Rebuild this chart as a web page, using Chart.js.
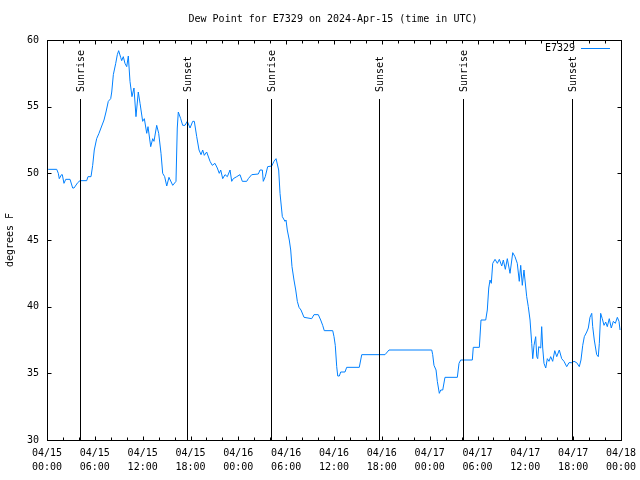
<!DOCTYPE html>
<html>
<head>
<meta charset="utf-8">
<script src="https://cdn.jsdelivr.net/npm/chart.js@4.4.1/dist/chart.umd.min.js"></script>
<style>
  html, body { margin: 0; padding: 0; background: #fff; }
  #wrap { width: 640px; height: 480px; }
</style>
</head>
<body>
<div id="wrap"><canvas id="dewChart" width="640" height="480"></canvas></div>
<script>
// hours since 04/15 00:00 UTC
const hours = [
  0.15, 1.22, 1.42, 1.54, 1.82, 1.92, 2.13, 2.35, 2.89, 3.22, 3.39, 3.85, 4.14, 4.98, 5.14, 5.52,
  5.73, 5.93, 6.23, 6.52, 6.77, 7.15, 7.40, 7.69, 7.99, 8.12, 8.32, 8.62, 8.82, 8.99, 9.24, 9.37,
  9.57, 9.78, 10.0, 10.2, 10.41, 10.66, 10.91, 11.16, 11.45, 11.67, 12.0, 12.21, 12.51, 12.67, 13.01, 13.26,
  13.42, 13.76, 14.01, 14.3, 14.51, 14.76, 15.02, 15.3, 15.77, 16.18, 16.34, 16.47, 16.77, 17.02, 17.31, 17.6,
  17.94, 18.28, 18.48, 18.78, 19.07, 19.32, 19.53, 19.73, 20.03, 20.45, 20.73, 21.07, 21.36, 21.61, 21.79, 22.04,
  22.33, 22.62, 22.96, 23.17, 23.37, 23.8, 24.21, 24.5, 25.05, 25.25, 25.68, 26.51, 26.72, 27.01, 27.13, 27.38,
  27.68, 28.19, 28.47, 28.73, 29.06, 29.23, 29.52, 29.85, 29.98, 30.14, 30.39, 30.57, 30.73, 30.98, 31.2, 31.4,
  31.61, 31.86, 32.24, 33.2, 33.49, 34.03, 34.33, 34.58, 34.78, 35.84, 36.0, 36.16, 36.34, 36.47, 36.67, 36.84,
  37.38, 37.59, 39.17, 39.48, 42.4, 42.9, 48.26, 48.38, 48.54, 48.8, 48.96, 49.21, 49.39, 49.64, 49.92, 51.47,
  51.68, 51.89, 53.35, 53.47, 54.23, 54.44, 55.03, 55.23, 55.41, 55.57, 55.73, 55.91, 56.2, 56.49, 56.74, 57.04,
  57.24, 57.49, 57.74, 58.08, 58.42, 58.7, 58.99, 59.24, 59.42, 59.62, 59.83, 60.17, 60.37, 60.59, 60.8, 60.93,
  61.09, 61.3, 61.43, 61.55, 61.68, 61.93, 62.05, 62.18, 62.34, 62.56, 62.76, 62.97, 63.18, 63.43, 63.69, 63.94,
  64.26, 64.56, 64.85, 65.19, 65.48, 65.82, 66.11, 66.44, 66.77, 66.98, 67.2, 67.4, 67.7, 67.9, 68.11, 68.33,
  68.45, 68.65, 68.95, 69.15, 69.28, 69.45, 69.65, 69.87, 70.08, 70.28, 70.53, 70.78, 71.04, 71.29, 71.54, 71.75,
  71.88
];
const dewPoint = [
  50.3, 50.3, 50.0, 49.6, 49.9, 49.9, 49.25, 49.55, 49.55, 48.9, 48.9, 49.3, 49.45, 49.45, 49.75, 49.75,
  50.6, 51.75, 52.6, 53.0, 53.4, 54.0, 54.6, 55.4, 55.6, 56.1, 57.4, 58.25, 58.9, 59.2, 58.7, 58.45,
  58.75, 58.25, 58.0, 58.8, 56.9, 55.75, 56.4, 54.25, 56.1, 55.25, 53.9, 54.1, 53.0, 53.5, 52.0, 52.6,
  52.4, 53.6, 53.0, 51.5, 50.0, 49.75, 49.05, 49.7, 49.1, 49.4, 53.4, 54.6, 54.1, 53.6, 53.6, 53.9,
  53.4, 53.9, 53.9, 52.75, 51.75, 51.4, 51.75, 51.35, 51.6, 50.9, 50.6, 50.75, 50.4, 50.0, 50.25, 49.6,
  49.9, 49.75, 50.25, 49.4, 49.6, 49.75, 49.9, 49.4, 49.4, 49.6, 49.9, 49.95, 50.25, 50.25, 49.4, 49.75,
  50.5, 50.55, 50.9, 51.1, 50.25, 48.5, 46.75, 46.4, 46.5, 45.75, 45.0, 44.25, 43.0, 42.0, 41.25, 40.4,
  39.95, 39.75, 39.2, 39.1, 39.4, 39.4, 39.0, 38.6, 38.2, 38.2, 37.75, 37.1, 35.5, 34.8, 34.8, 35.1,
  35.1, 35.45, 35.45, 36.4, 36.4, 36.75, 36.75, 36.4, 35.6, 35.25, 34.4, 33.5, 33.75, 33.75, 34.7, 34.7,
  35.75, 36.0, 36.0, 36.95, 36.95, 39.0, 39.0, 39.75, 41.4, 42.0, 41.75, 43.25, 43.55, 43.25, 43.55, 43.05,
  43.5, 42.8, 43.6, 42.5, 44.05, 43.75, 43.25, 41.9, 43.1, 41.6, 42.75, 40.75, 40.0, 39.0, 37.25, 36.1,
  37.1, 37.75, 36.25, 36.1, 37.0, 36.9, 38.5, 36.9, 35.75, 35.4, 36.1, 35.9, 36.25, 35.9, 36.7, 36.25,
  36.75, 36.1, 35.9, 35.5, 35.8, 35.8, 35.9, 35.8, 35.5, 36.0, 37.1, 37.75, 38.1, 38.4, 39.2, 39.5,
  38.5, 37.5, 36.4, 36.25, 37.25, 39.5, 39.1, 38.6, 38.85, 38.5, 39.1, 38.4, 38.9, 38.75, 39.2, 38.9,
  38.25
];

const eventHours = [4.17, 17.6, 28.15, 41.7, 52.2, 65.8];
const eventLabels = ['Sunrise', 'Sunset', 'Sunrise', 'Sunset', 'Sunrise', 'Sunset'];
const eventTop = 55.6;

const tickDates = ['04/15', '04/15', '04/15', '04/15', '04/16', '04/16', '04/16', '04/16', '04/17', '04/17', '04/17', '04/17', '04/18'];
const tickTimes = ['00:00', '06:00', '12:00', '18:00', '00:00', '06:00', '12:00', '18:00', '00:00', '06:00', '12:00', '18:00', '00:00'];

const titleText = 'Dew Point for E7329 on 2024-Apr-15 (time in UTC)';
const seriesName = 'E7329';
const yLabel = 'degrees F';

const FONT = '10px "DejaVu Sans Mono"';
const LINE_COLOR = 'rgb(0, 128, 255)';

// Gnuplot-ish frame: border, inward ticks, event markers, title, legend
const framePlugin = {
    id: 'gnuplotFrame',
    afterDraw(chart) {
        const ctx = chart.ctx;
        const a = chart.chartArea;
        const xs = chart.scales.x;
        const ys = chart.scales.y;
        const L = Math.round(a.left) + 0.5, R = Math.round(a.right) + 0.5;
        const T = Math.round(a.top) + 0.5, B = Math.round(a.bottom) + 0.5;

        ctx.save();
        ctx.strokeStyle = '#000';
        ctx.lineWidth = 1;

        // event lines
        eventHours.forEach((h) => {
            const px = Math.round(xs.getPixelForValue(h)) + 0.5;
            ctx.beginPath();
            ctx.moveTo(px, B);
            ctx.lineTo(px, Math.round(ys.getPixelForValue(eventTop)));
            ctx.stroke();
        });

        // border
        ctx.strokeRect(L, T, R - L, B - T);

        // x ticks (major every 6h, minor every 2h), mirrored on top
        ctx.beginPath();
        for (let h = 0; h <= 72; h += 2) {
            const px = Math.round(xs.getPixelForValue(h)) + 0.5;
            const len = h % 6 === 0 ? 4 : 3;
            ctx.moveTo(px, B); ctx.lineTo(px, B - len);
            ctx.moveTo(px, T); ctx.lineTo(px, T + len);
        }
        // y ticks every 5, mirrored on right
        for (let v = 30; v <= 60; v += 5) {
            const py = Math.round(ys.getPixelForValue(v)) + 0.5;
            ctx.moveTo(L, py); ctx.lineTo(L + 4, py);
            ctx.moveTo(R, py); ctx.lineTo(R - 4, py);
        }
        ctx.stroke();

        ctx.fillStyle = '#000';
        ctx.font = FONT;

        // event labels, rotated
        eventHours.forEach((h, i) => {
            const px = Math.round(xs.getPixelForValue(h)) + 1;
            ctx.save();
            ctx.translate(px, Math.round(ys.getPixelForValue(eventTop)) - 7);
            ctx.rotate(-Math.PI / 2);
            ctx.textAlign = 'left';
            ctx.textBaseline = 'middle';
            ctx.fillText(eventLabels[i], 0, 0);
            ctx.restore();
        });

        // title
        ctx.textAlign = 'center';
        ctx.textBaseline = 'middle';
        ctx.fillText(titleText, (a.left + a.right) / 2 - 1, 19);

        // y axis label
        ctx.save();
        ctx.translate(10, (a.top + a.bottom) / 2);
        ctx.rotate(-Math.PI / 2);
        ctx.fillText(yLabel, 0, 0);
        ctx.restore();

        // legend
        ctx.textAlign = 'right';
        ctx.fillText(seriesName, 575, 48);
        ctx.strokeStyle = LINE_COLOR;
        ctx.beginPath();
        ctx.moveTo(581, 48.5);
        ctx.lineTo(610, 48.5);
        ctx.stroke();

        ctx.restore();
    }
};

const ctx = document.getElementById('dewChart').getContext('2d');
new Chart(ctx, {
    type: 'line',
    data: {
        datasets: [{
            label: seriesName,
            data: hours.map((h, i) => ({ x: h, y: dewPoint[i] })),
            borderColor: LINE_COLOR,
            borderWidth: 1,
            pointRadius: 0,
            tension: 0,
            fill: false
        }]
    },
    options: {
        responsive: false,
        animation: false,
        layout: { padding: { top: 40, right: 19, left: 0, bottom: 0 } },
        plugins: {
            legend: { display: false },
            title: { display: false },
            tooltip: { enabled: false }
        },
        scales: {
            x: {
                type: 'linear',
                min: 0,
                max: 72,
                afterFit: (s) => {
                    s.height = 40;
                    s.paddingLeft = 0;   // keep the edge labels from shrinking the plot
                    s.paddingRight = 0;
                },
                grid: { display: false, drawTicks: false },
                border: { display: false },
                afterBuildTicks: (s) => { s.ticks = tickDates.map((d, i) => ({ value: i * 6 })); },
                ticks: {
                    autoSkip: false,
                    maxRotation: 0,
                    padding: 6,
                    color: '#000',
                    font: { family: 'DejaVu Sans Mono', size: 10, lineHeight: 1.4 },
                    callback: (v) => [tickDates[v / 6], tickTimes[v / 6]]
                }
            },
            y: {
                min: 30,
                max: 60,
                afterFit: (s) => { s.width = 47; },
                grid: { display: false, drawTicks: false },
                border: { display: false },
                ticks: {
                    stepSize: 5,
                    padding: 8,
                    color: '#000',
                    font: { family: 'DejaVu Sans Mono', size: 10 }
                }
            }
        }
    },
    plugins: [framePlugin]
});
</script>
</body>
</html>
